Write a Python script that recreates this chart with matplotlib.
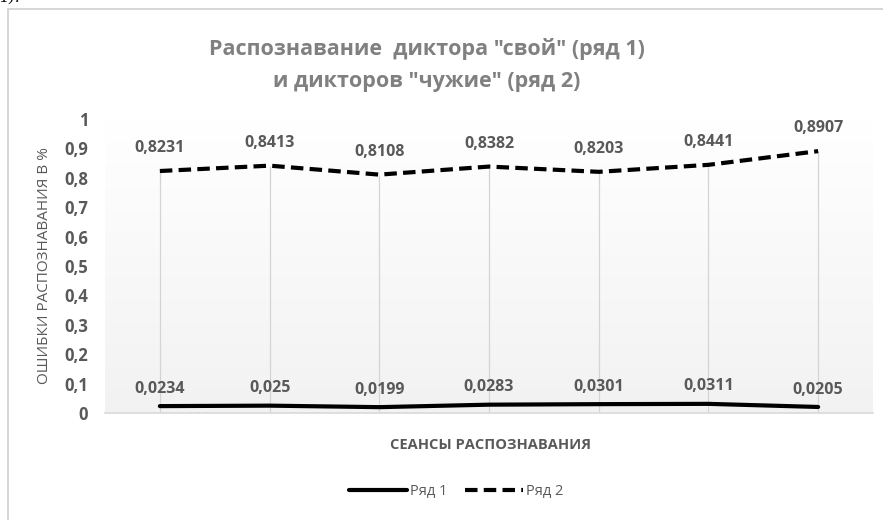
import numpy as np
import matplotlib.pyplot as plt
from matplotlib.patches import Rectangle
from matplotlib.colors import LinearSegmentedColormap

plt.rcParams['font.family'] = ['Open Sans', 'DejaVu Sans']

# error rates per recognition session
sessions = np.arange(7)
row1 = [0.0234, 0.025, 0.0199, 0.0283, 0.0301, 0.0311, 0.0205]
row2 = [0.8231, 0.8413, 0.8108, 0.8382, 0.8203, 0.8441, 0.8907]
series_names = ["Ряд 1", "Ряд 2"]
yticks = [0, 0.1, 0.2, 0.3, 0.4, 0.5, 0.6, 0.7, 0.8, 0.9, 1]

title = 'Распознавание  диктора "свой" (ряд 1)\nи дикторов "чужие" (ряд 2)'
xlabel = "СЕАНСЫ РАСПОЗНАВАНИЯ"
ylabel = "ОШИБКИ РАСПОЗНАВАНИЯ В %"

GRAY = '#595959'


def fmt(v):
    return ("%g" % v).replace('.', ',')


fig = plt.figure(figsize=(8.83, 5.2), dpi=100)
ax = fig.add_axes([105 / 883, 1 - 413 / 520, 768 / 883, 294 / 520])

# chart frame, cut by the page on the right and bottom
fig.patches.append(Rectangle((8 / 883, -0.1), 1.0, 1.1 - 9 / 520,
                             transform=fig.transFigure, fill=False,
                             edgecolor='#d0d0d0', lw=1.2))
fig.text(0.0, 1.005, "1).", family='DejaVu Serif', style='italic',
         fontsize=11, va='center', ha='left')

ax.set_xlim(-0.5, 6.5)
ax.set_ylim(0, 1)

# plot-area gradient: white at top, light gray at bottom
cmap = LinearSegmentedColormap.from_list('pa', ['#f2f2f2', '#ffffff'])
grad = np.linspace(0, 1, 256).reshape(-1, 1)
ax.imshow(grad, cmap=cmap, aspect='auto', origin='lower',
          extent=(-0.5, 6.5, 0, 1), zorder=0)

# drop lines from the upper series
top = np.maximum(row1, row2)
ax.vlines(sessions, 0, top, color='#d4d4d4', lw=0.9, zorder=1)

l1, = ax.plot(sessions, row1, color='black', lw=3, zorder=3,
              solid_capstyle='round')
l2, = ax.plot(sessions, row2, color='black', lw=3, ls=(0, (3, 1.5)), zorder=3)

for x, v in zip(sessions, row1):
    ax.annotate(fmt(v), (x, v), xytext=(0, 12.5), textcoords='offset points',
                ha='center', va='center', fontsize=11.5, weight='bold', color=GRAY)
for x, v in zip(sessions, row2):
    ax.annotate(fmt(v), (x, v), xytext=(0, 16.5), textcoords='offset points',
                ha='center', va='center', fontsize=11.5, weight='bold', color=GRAY)

for s in ['top', 'right', 'left']:
    ax.spines[s].set_visible(False)
ax.spines['bottom'].set_color('#d9d9d9')
ax.spines['bottom'].set_linewidth(1.2)
ax.set_xticks([])
ax.set_yticks(yticks)
ax.set_yticklabels([fmt(t) for t in yticks], fontsize=12, weight='bold',
                   color=GRAY)
ax.tick_params(axis='y', length=0, pad=12)

fig.text(45 / 883, 1 - 266 / 520, ylabel, rotation=90, ha='center',
         va='center', fontsize=11, color=GRAY)
fig.text(490 / 883, 1 - 445 / 520, xlabel, ha='center', va='center',
         fontsize=10.5, weight='bold', color=GRAY)
fig.text(427 / 883, 1 - 65 / 520, title, ha='center', va='center',
         fontsize=15.5, weight='bold', color='#808080', linespacing=1.65)

fig.legend([l1, l2], series_names, loc='center', ncol=2,
           bbox_to_anchor=(456 / 883, 1 - 492 / 520), frameon=False,
           fontsize=10.5, labelcolor=GRAY, handlelength=4.0,
           handletextpad=0.2, columnspacing=1.2)

fig.savefig('out.png', dpi=100, facecolor='white')
